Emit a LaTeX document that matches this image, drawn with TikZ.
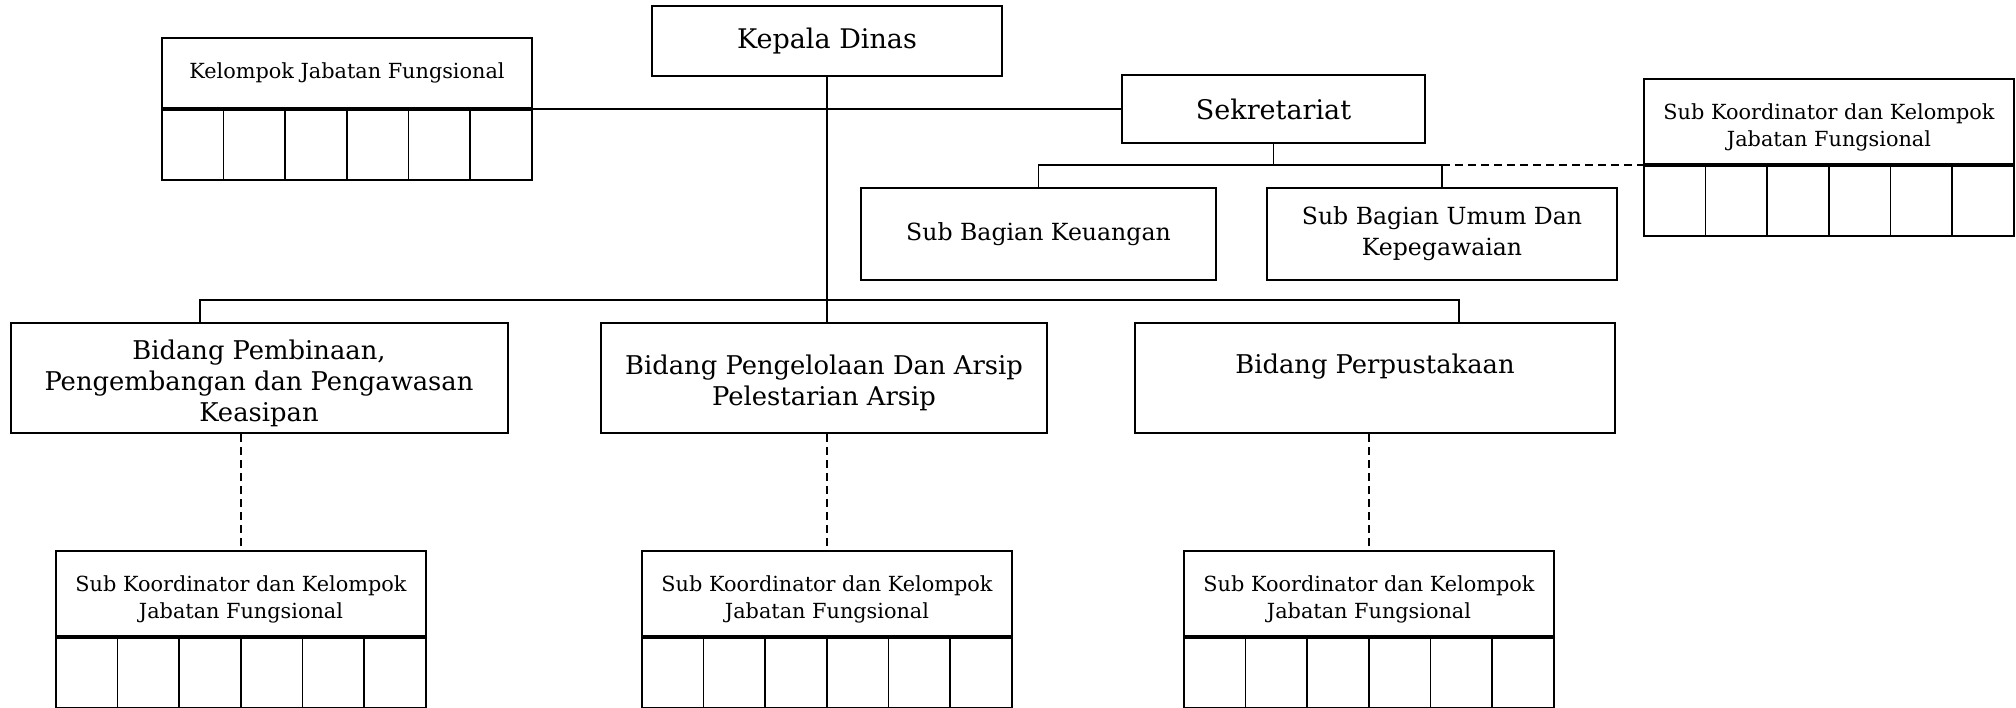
\documentclass[tikz,border=0pt]{standalone}
\usepackage{fontspec}
\setmainfont{DejaVu Serif}
\tikzset{
  box/.style={draw, line width=1pt, inner sep=2pt, align=center},
  subbox/.style={draw, line width=1pt, minimum width=185pt, minimum height=42.5pt},
  cell/.style={draw, line width=0.8pt, inner sep=0pt, minimum width=30.833pt, minimum height=35pt, anchor=north west},
  bigtxt/.style={font=\fontsize{13.5}{15.5}\selectfont},
  bidtxt/.style={font=\fontsize{12.9}{15.5}\selectfont},
  midtxt/.style={font=\fontsize{11.8}{15.5}\selectfont},
  smalltxt/.style={font=\fontsize{10.4}{13.5}\selectfont},
  link/.style={line width=0.7pt},
  dashlink/.style={line width=0.7pt, dash pattern=on 4pt off 2.5pt},
}
\begin{document}
\begin{tikzpicture}[x=0.5pt, y=-0.5pt]
    \useasboundingbox (0,0) rectangle (2016,707);

    % Kepala Dinas and Kelompok Jabatan Fungsional
    \node[box, bigtxt, minimum width=175pt, minimum height=34.75pt] (kadis) at (827,41) {Kepala Dinas};
    \node[box, smalltxt, minimum width=185pt, minimum height=35pt] (kjf) at (347,73) {Kelompok Jabatan Fungsional};
    \foreach \i in {0,...,5}
        \node[cell] (kjf-\i) at ([xshift=\i*30.833pt]kjf.south west) {};

    % Sekretariat branch
    \node[box, bigtxt, minimum width=151.5pt, minimum height=34.25pt] (sekre) at (1273.5,109) {Sekretariat};
    \node[box, midtxt, minimum width=177.5pt, minimum height=46pt] (keu) at (1038.5,234) {Sub Bagian Keuangan};
    \node[box, midtxt, minimum width=175pt, minimum height=46pt] (umum) at (1442,234) {Sub Bagian Umum Dan\\Kepegawaian};
    \node[subbox] (skr) at (1829,121.5) {};
    \node[smalltxt, align=center] (skr-txt) at ([yshift=-3pt]skr.center) {Sub Koordinator dan Kelompok\\Jabatan Fungsional};
    \foreach \i in {0,...,5}
        \node[cell] (skr-\i) at ([xshift=\i*30.833pt]skr.south west) {};

    % Bidang
    \node[box, minimum width=248.5pt, minimum height=55pt] (bina) at (259,378) {};
    \node[bidtxt, align=center] (bina-txt) at ([yshift=-2.5pt]bina.center) {Bidang Pembinaan,\\Pengembangan dan Pengawasan\\Keasipan};
    \node[box, minimum width=223pt, minimum height=55pt] (kelola) at (824,378) {};
    \node[bidtxt, align=center] (kelola-txt) at ([yshift=-2.5pt]kelola.center) {Bidang Pengelolaan Dan Arsip\\Pelestarian Arsip};
    \node[box, minimum width=240pt, minimum height=55pt] (perpus) at (1375,378) {};
    \node[bidtxt] (perpus-txt) at ([yshift=5.75pt]perpus.center) {Bidang Perpustakaan};

    % Sub Koordinator under each Bidang
    \node[subbox] (skb1) at (241,593.5) {};
    \node[subbox] (skb2) at (827,593.5) {};
    \node[subbox] (skb3) at (1369,593.5) {};
    \foreach \b in {skb1,skb2,skb3} {
        \node[smalltxt, align=center] (\b-txt) at ([yshift=-3pt]\b.center) {Sub Koordinator dan Kelompok\\Jabatan Fungsional};
        \foreach \i in {0,...,5}
            \node[cell] (\b-\i) at ([xshift=\i*30.833pt]\b.south west) {};
    }

    % Connectors
    \coordinate (busL) at (200,300);
    \coordinate (busR) at (1459,300);
    \coordinate (sbus) at (0,165);
    \draw[link] (kadis.south) -- (kadis.south |- kelola.north);
    \draw[link] (kjf.south east) -- (kjf.south east -| sekre.west);
    \draw[link] (busL |- bina.north) -- (busL) -- (busR) -- (busR |- perpus.north);
    \draw[link] (sekre.south) -- (sekre.south |- sbus);
    \draw[link] (keu.north) -- (keu.north |- sbus) -- (umum.north |- sbus) -- (umum.north);
    \draw[dashlink] (umum.north |- sbus) -- (skr.south west);
    \draw[dashlink] (skb1.north |- bina.south) -- (skb1.north);
    \draw[dashlink] (skb2.north |- kelola.south) -- (skb2.north);
    \draw[dashlink] (skb3.north |- perpus.south) -- (skb3.north);
\end{tikzpicture}
\end{document}
